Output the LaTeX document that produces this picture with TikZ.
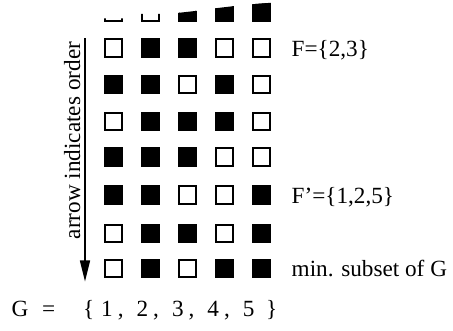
\documentclass[tikz,border=0pt]{standalone}
\usepackage{fontspec}
\setmainfont{Liberation Serif}
\usetikzlibrary{arrows.meta}

\begin{document}
\begin{tikzpicture}[x=1pt,y=-1pt,
  cell/.style={draw=black,line width=2pt,minimum size=17.5pt,inner sep=0pt,outer sep=0pt},
  on/.style={cell,fill=black},
  off/.style={cell,fill=white},
  txt/.style={inner sep=0pt,font=\fontsize{23.2}{28}\selectfont},
  lbl/.style={txt,anchor=base west}]
\useasboundingbox (0,0) rectangle (453,331);

% first row, partly cut away along its top edge
\begin{scope}
  \clip (95,18.3) -- (124,18.3) -- (139,14) -- (161,14) -- (177,13) -- (198,10.7)
        -- (215,8.3) -- (235,6) -- (251.7,4.3) -- (272,2.7) -- (285,2.7)
        -- (285,30) -- (95,30) -- cycle;
  \def\pat{off,off,on,on,on}
  \foreach \v [count=\c] in \pat
    \node[\v] (c1-\c) at ({113.3+37.1*(\c-1)},12) {};
\end{scope}

% remaining rows of subsets
\foreach \r/\yy/\pat in {2/47.8/{off,on,on,off,off},
                          3/84.7/{on,on,off,on,off},
                          4/121.4/{off,on,on,on,off},
                          5/157/{on,on,on,off,off},
                          6/195/{on,on,off,off,on},
                          7/233.3/{off,on,on,off,on},
                          8/268.3/{off,on,off,on,on}}
  \foreach \v [count=\c] in \pat
    \node[\v] (c\r-\c) at ({113.3+37.1*(\c-1)},\yy) {};

% order arrow
\coordinate (atop) at (85,38.5);
\coordinate (abot) at (85,281.5);
\draw[line width=1.6pt,-{Triangle[width=10pt,length=21pt]}] (atop) -- (abot);
\node[txt,rotate=90,anchor=base] (order) at (80,140.5) {arrow indicates order};

% row labels
\node[lbl] (f) at (291.5,56.7) {F=\{2,3\}};
\node[lbl] (fp) at (291.5,203.3) {F’=\{1,2,5\}};
\node[lbl] (min) at (291.5,276.5) {min. subset of G};

% ground set
\node[lbl] (gset) at (11.5,317) {G\hspace{13.75pt}=\hspace{27.9pt}\{\hspace{6.9pt}1\hspace{5pt},\hspace{13pt}2\hspace{5pt},\hspace{13pt}3\hspace{5pt},\hspace{13pt}4\hspace{5pt},\hspace{13pt}5\hspace{11.8pt}\}};
\end{tikzpicture}
\end{document}
